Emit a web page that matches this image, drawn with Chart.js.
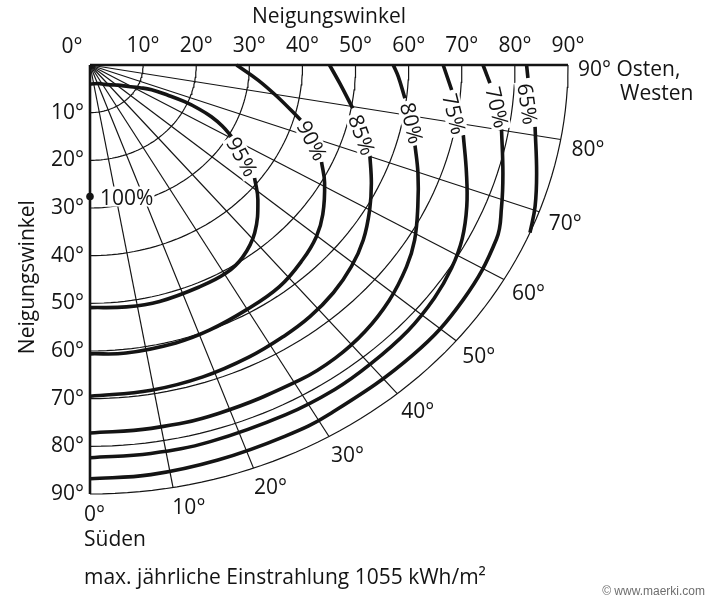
<!DOCTYPE html>
<html><head><meta charset="utf-8">
<script src="https://cdn.jsdelivr.net/npm/chart.js@4.4.1/dist/chart.umd.min.js"></script>
<style>html,body{margin:0;padding:0;background:#fff;}canvas{display:block}</style>
</head><body>
<canvas id="c" width="711" height="602"></canvas>
<script>
// ---------- tick labels ----------
const tiltTicks = [10, 20, 30, 40, 50, 60, 70, 80, 90];
const tiltTickLabels = ['10°', '20°', '30°', '40°', '50°', '60°', '70°', '80°', '90°'];
const cornerLabel = '0°';
const axisTitle = 'Neigungswinkel';
const azimuthTicks = [0, 10, 20, 30, 40, 50, 60, 70, 80, 90];
const azimuthLabels = ['0°', '10°', '20°', '30°', '40°', '50°', '60°', '70°', '80°', '90° Osten,'];
const southLabel = 'Süden';
const eastWestLine2 = 'Westen';
const caption = 'max. jährliche Einstrahlung 1055 kWh/m²';
const credit = '© www.maerki.com';

// ---------- grid ----------
const gridTilts = [10, 20, 30, 40, 50, 60, 70, 80, 90];
const gridAzimuths = [10, 20, 30, 40, 50, 60, 70, 80];

// ---------- optimum ----------
const optimumTilt = 27.6;
const optimumLabel = '100%';

// ---------- iso-irradiation lines (azimuth from south in deg, tilt in deg) ----------
const iso95UpperAz   = [0, 25, 34, 44, 51, 58, 63, 65.9, 66.6, 66.6, 65.8, 64.6, 62.8, 60.6];
const iso95UpperTilt = [4.0, 4.3, 4.9, 5.8, 6.7, 8.5, 10.5, 12.7, 16.0, 19.4, 22.5, 25.3, 28.0, 30.6];
const iso95LowerAz   = [52.6, 48.2, 41.4, 35.5, 30.5, 23.9, 14.8, 7.7, 0];
const iso95LowerTilt = [39.0, 42.4, 46.9, 49.5, 50.6, 50.9, 51.3, 51.2, 50.9];

const iso90UpperAz   = [90, 84.3, 79.3, 73.8];
const iso90UpperTilt = [27.6, 31.8, 35.9, 41.3];
const iso90LowerAz   = [65.0, 60.8, 54.4, 49.8, 44.4, 37.5, 29.8, 22.0, 15.5, 6.4, 0];
const iso90LowerTilt = [48.1, 50.6, 53.9, 55.8, 57.2, 58.6, 59.2, 60.0, 60.5, 60.8, 60.6];

const iso85UpperAz   = [90, 85.3, 79.6];
const iso85UpperTilt = [45.1, 47.2, 50.3];
const iso85LowerAz   = [70.7, 64.9, 60.0, 54.5, 49.3, 43.8, 38.1, 32.7, 26, 18, 9.6, 0];
const iso85LowerTilt = [55.8, 58.5, 60.8, 63.2, 64.9, 66.2, 67.1, 67.6, 68.2, 68.8, 69.2, 69.5];

const iso80UpperAz   = [90, 87.6, 83.3];
const iso80UpperTilt = [57.1, 58.1, 59.7];
const iso80LowerAz   = [75.0, 69.8, 64.3, 59.0, 54.6, 48.8, 42.8, 36.9, 30.9, 18.3, 8.6, 0];
const iso80LowerTilt = [63.3, 65.8, 68.5, 71.3, 73.1, 74.9, 76.2, 76.9, 77.0, 77.0, 77.1, 77.2];

const iso75UpperAz   = [90, 85.6];
const iso75UpperTilt = [66.5, 68.3];
const iso75LowerAz   = [78.2, 72.3, 67.3, 62.5, 58, 53, 47, 40, 34.1, 26.6, 16, 8, 0];
const iso75LowerTilt = [71.8, 74.4, 76.9, 79.0, 80.3, 81.2, 81.8, 82.0, 82.2, 82.1, 82.2, 82.3, 82.4];

const iso70UpperAz   = [90, 87.1];
const iso70UpperTilt = [74.0, 75.4];
const iso70LowerAz   = [80.3, 73.7, 69.0, 64.5, 55, 45, 31.9, 25.2, 16.2, 7.6, 0];
const iso70LowerTilt = [78.6, 81.0, 83.0, 84.8, 85.8, 86.0, 86.0, 86.1, 86.3, 86.7, 86.8];

const iso65UpperAz   = [90, 88.1];
const iso65UpperTilt = [82.2, 82.5];
const iso65LowerAz   = [81.2, 74.9, 70.5, 67];
const iso65LowerTilt = [84.8, 87.1, 88.9, 90];

const isoLevels = ['95%', '90%', '85%', '80%', '75%', '70%', '65%'];

// label anchors (in axis units: east component, south component) and text angle
const isoLabelAnchors = [
  {x: 28.55, y: 19.3, angle: 61},
  {x: 41.75, y: 15.9, angle: 63},
  {x: 51.1,  y: 14.7, angle: 70},
  {x: 60.5,  y: 12.2, angle: 77},
  {x: 68.5,  y: 10.3, angle: 76},
  {x: 76.6,  y: 8.9,  angle: 77},
  {x: 82.3,  y: 8.2,  angle: 82}
];

// ---------- helpers ----------
const DEG = Math.PI / 180;
const FONT = "'Open Sans', 'DejaVu Sans', sans-serif";
const INK = '#141414';
const toXY = (tilt, az) => ({x: tilt * Math.sin(az * DEG), y: tilt * Math.cos(az * DEG)});
const polyline = (azs, tilts) => azs.map((a, i) => toXY(tilts[i], a));

const datasets = [];
const thin = (data, w) => ({data, showLine: true, borderColor: INK, borderWidth: w || 1.2, pointRadius: 0, tension: 0, clip: false});
const thick = (data) => ({data, showLine: true, borderColor: INK, borderWidth: 3.6, pointRadius: 0, tension: 0.4, clip: false, borderCapStyle: 'butt'});

// tilt circles
gridTilts.forEach(t => {
  const pts = [];
  for (let a = 0; a <= 90; a += 1.5) pts.push(toXY(t, a));
  datasets.push(thin(pts));
});
// azimuth rays
gridAzimuths.forEach(a => datasets.push(thin([toXY(0, a), toXY(90, a)])));
// border rays (south and east/west)
datasets.push(thin([toXY(0, 0), toXY(90, 0)], 2.6));
datasets.push(thin([toXY(0, 90), toXY(90, 90)], 2.6));

// iso lines
[[iso95UpperAz, iso95UpperTilt], [iso95LowerAz, iso95LowerTilt],
 [iso90UpperAz, iso90UpperTilt], [iso90LowerAz, iso90LowerTilt],
 [iso85UpperAz, iso85UpperTilt], [iso85LowerAz, iso85LowerTilt],
 [iso80UpperAz, iso80UpperTilt], [iso80LowerAz, iso80LowerTilt],
 [iso75UpperAz, iso75UpperTilt], [iso75LowerAz, iso75LowerTilt],
 [iso70UpperAz, iso70UpperTilt], [iso70LowerAz, iso70LowerTilt],
 [iso65UpperAz, iso65UpperTilt], [iso65LowerAz, iso65LowerTilt]
].forEach(([a, t]) => datasets.push(thick(polyline(a, t))));

// optimum point
datasets.push({data: [toXY(optimumTilt, 0)], pointRadius: 3.8, pointBackgroundColor: INK, pointBorderWidth: 0, showLine: false, clip: false});

// ---------- plugins ----------
const bgPlugin = {
  id: 'bg',
  beforeDraw(chart) {
    const c = chart.ctx; c.save(); c.fillStyle = '#fff'; c.fillRect(0, 0, chart.width, chart.height); c.restore();
  }
};

const textPlugin = {
  id: 'texts',
  afterDatasetsDraw(chart) {
    const c = chart.ctx, xs = chart.scales.x, ys = chart.scales.y;
    const P = (tilt, az) => { const p = toXY(tilt, az); return {x: xs.getPixelForValue(p.x), y: ys.getPixelForValue(p.y)}; };
    c.save();
    c.fillStyle = INK;
    c.textBaseline = 'middle';
    c.font = `21px ${FONT}`;

    // corner label
    c.textAlign = 'center';
    c.fillText(cornerLabel, xs.getPixelForValue(0) - 18, 47);

    // rotated left title
    c.save();
    c.translate(28, ys.getPixelForValue(44.5));
    c.rotate(-Math.PI / 2);
    c.textAlign = 'center';
    c.fillText(axisTitle, 0, 0);
    c.restore();

    // azimuth labels around the outer circle
    c.textAlign = 'left';
    azimuthTicks.forEach((a, i) => {
      const p = P(90, a);
      const s = Math.sin(a * DEG), co = Math.cos(a * DEG);
      let dx = 12 * s * s - 1, dy = 8 + 13 * co;
      if (a === 0) { dx = -6; dy = 21; }
      if (a === 90) { dx = 10; dy = 5; }
      c.fillText(azimuthLabels[i], p.x + dx, p.y + dy);
      if (a === 90) c.fillText(eastWestLine2, p.x + 52, p.y + 29);
      if (a === 0) c.fillText(southLabel, p.x + dx, p.y + dy + 25);
    });

    // optimum label
    const op = P(optimumTilt, 0);
    c.font = `21px ${FONT}`;
    const ow = c.measureText(optimumLabel).width;
    c.fillStyle = '#fff';
    c.fillRect(op.x + 9, op.y - 10, ow + 2, 20);
    c.fillStyle = INK;
    c.fillText(optimumLabel, op.x + 10, op.y + 2);

    // iso labels
    c.textAlign = 'center';
    isoLevels.forEach((lab, i) => {
      const an = isoLabelAnchors[i];
      const x = xs.getPixelForValue(an.x), y = ys.getPixelForValue(an.y);
      c.save();
      c.translate(x, y);
      c.rotate(an.angle * DEG);
      const w = c.measureText(lab).width;
      c.fillStyle = '#fff';
      c.fillRect(-w / 2 - 2, -10, w + 4, 20);
      c.fillStyle = INK;
      c.fillText(lab, 0, 1);
      c.restore();
    });

    // caption
    c.textAlign = 'left';
    c.fillText(caption, 84, 578);
    c.font = `12px 'Liberation Sans', Arial, sans-serif`;
    c.fillStyle = '#6e6e6e';
    c.textAlign = 'right';
    c.fillText(credit, 705, 592);
    c.restore();
  }
};

new Chart(document.getElementById('c'), {
  type: 'scatter',
  data: {datasets},
  options: {
    responsive: false,
    animation: false,
    devicePixelRatio: 1,
    layout: {padding: {left: 0, top: 0, right: 143, bottom: 108}},
    plugins: {legend: {display: false}, tooltip: {enabled: false}},
    scales: {
      x: {
        type: 'linear', position: 'top', min: 0, max: 90,
        grid: {display: false, drawTicks: false}, border: {display: false},
        afterBuildTicks: s => { s.ticks = tiltTicks.map(v => ({value: v})); },
        afterFit: s => { s.height = 65; },
        ticks: {autoSkip: false, maxRotation: 0, padding: 6, color: INK, font: {family: FONT, size: 21},
                callback: (v, i) => tiltTickLabels[i]},
        title: {display: true, text: axisTitle, color: INK, font: {family: FONT, size: 21}, padding: {top: 4, bottom: 0}}
      },
      y: {
        type: 'linear', position: 'left', reverse: true, min: 0, max: 90,
        grid: {display: false, drawTicks: false}, border: {display: false},
        afterBuildTicks: s => { s.ticks = tiltTicks.map(v => ({value: v})); },
        afterFit: s => { s.width = 90; },
        ticks: {autoSkip: false, padding: 6, color: INK, font: {family: FONT, size: 21},
                callback: (v, i) => tiltTickLabels[i]}
      }
    }
  },
  plugins: [bgPlugin, textPlugin]
});
</script>
</body></html>
